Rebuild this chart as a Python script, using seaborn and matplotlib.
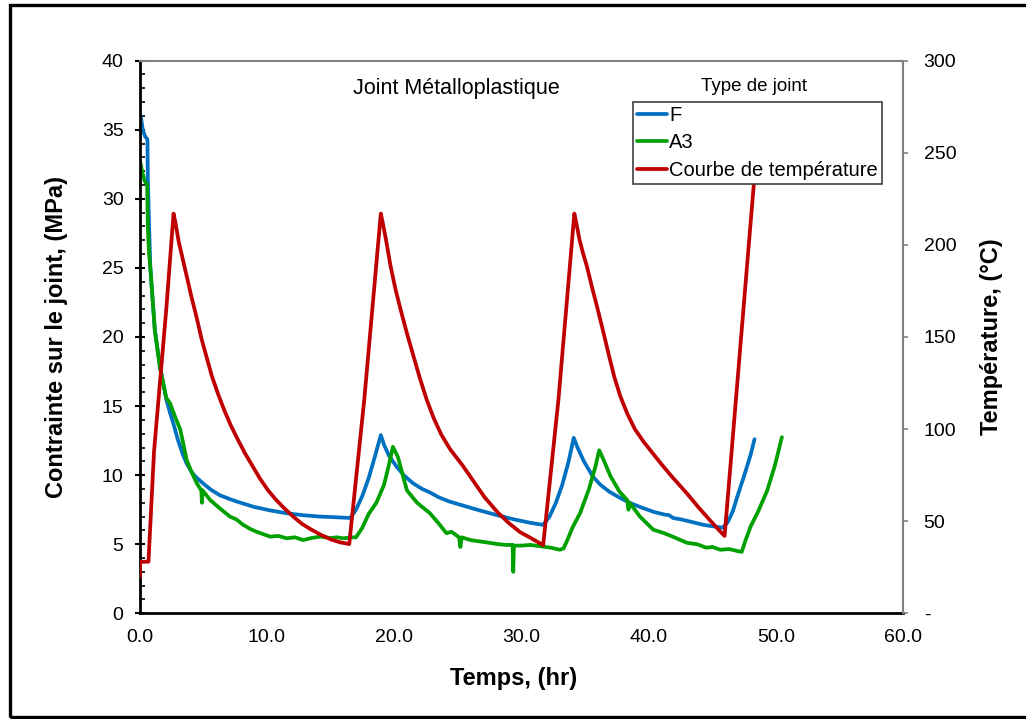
import numpy as np
import pandas as pd
import seaborn as sns
import matplotlib
matplotlib.use("Agg")
import matplotlib.pyplot as plt
from matplotlib.patches import Rectangle
from matplotlib.ticker import MultipleLocator, FuncFormatter

# joint F : temps (hr) / contrainte (MPa)
t_f = [0.1, 0.25, 0.45, 0.62, 0.65, 0.75, 0.85, 1.2, 1.6, 2.1, 2.4, 2.7, 3.0, 3.4, 3.7, 4.1,
       4.5, 5.0, 5.6, 6.3, 7.0, 7.6, 8.3, 9.0, 10.25, 11.5, 12.85, 14.2, 15.5, 16.55, 17.0,
       17.5, 18.0, 18.5, 18.95, 19.2, 19.6, 20.2, 20.8, 21.5, 22.2, 22.8, 23.5, 24.3, 25.4,
       26.7, 28.1, 29.4, 30.7, 31.7, 32.2, 32.7, 33.2, 33.7, 34.1, 34.4, 34.9, 35.6, 36.2,
       36.9, 37.75, 38.5, 39.3, 40.35, 41.2, 41.6, 41.9, 42.5, 43.2, 44.3, 45.0, 45.8, 46.2,
       46.6, 47.0, 47.5, 48.0, 48.3]
f_mpa = [36.0, 35.0, 34.5, 34.3, 31.5, 28.0, 25.0, 20.5, 17.9, 15.5, 14.5, 13.6, 12.6, 11.5,
         10.85, 10.2, 9.8, 9.4, 8.95, 8.55, 8.3, 8.1, 7.9, 7.7, 7.45, 7.25, 7.1, 7.0, 6.95, 6.9,
         7.5, 8.5, 9.8, 11.4, 12.9, 12.2, 11.4, 10.6, 9.95, 9.4, 9.0, 8.75, 8.4, 8.1, 7.8,
         7.45, 7.1, 6.8, 6.55, 6.4, 7.0, 8.0, 9.3, 11.0, 12.7, 12.0, 11.0, 9.9, 9.3,
         8.8, 8.35, 8.0, 7.7, 7.35, 7.15, 7.1, 6.9, 6.8, 6.65, 6.4, 6.3, 6.2, 6.6,
         7.4, 8.6, 10.0, 11.5, 12.6]

# joint A3
t_a3 = [0.05, 0.2, 0.4, 0.6, 0.65, 0.75, 0.85, 1.2, 1.6, 2.1, 2.4, 2.8, 3.2, 3.7, 4.1, 4.5,
        4.85, 4.9, 4.95, 5.55, 6.3, 7.1, 7.6, 8.15, 8.7, 9.2, 9.8, 10.25, 10.9, 11.55, 12.2,
        12.85, 13.5, 14.2, 15.0, 15.5, 16.0, 16.7, 17.0, 17.5, 18.0, 18.6, 19.2, 19.6, 19.9,
        20.3, 20.7, 21.0, 21.8, 22.8, 23.5, 24.1, 24.5, 25.1, 25.2, 25.3, 26.0, 26.75, 27.5,
        28.2, 28.8, 29.3, 29.35, 29.4, 30.0, 30.7, 31.5, 32.3, 33.0, 33.3, 33.6, 34.0, 34.6,
        35.3, 35.8, 36.1, 36.4, 37.0, 37.7, 38.3, 38.4, 38.5, 39.3, 40.35, 41.2, 42.0, 43.0,
        43.8, 44.5, 45.0, 45.6, 46.3, 47.0, 47.3, 47.6, 48.0, 48.6, 49.3, 49.9, 50.45]
a3_mpa = [32.7, 32.0, 31.3, 31.0, 28.0, 26.0, 25.0, 20.5, 17.8, 15.6, 15.2, 14.2, 13.3, 11.1,
          10.2, 9.4, 8.9, 8.0, 8.9, 8.2, 7.6, 7.0, 6.8, 6.4, 6.1, 5.9, 5.7, 5.55, 5.6, 5.43, 5.5,
          5.3, 5.45, 5.55, 5.45, 5.5, 5.43, 5.5, 5.5, 6.2, 7.2, 8.0, 9.3, 10.8, 12.05,
          11.3, 9.9, 8.9, 8.0, 7.25, 6.5, 5.8, 5.9, 5.5, 4.8, 5.5, 5.3, 5.2, 5.1,
          5.0, 4.95, 4.95, 3.0, 4.9, 4.9, 4.95, 4.85, 4.75, 4.6, 4.7, 5.3, 6.2, 7.25,
          9.0, 10.6, 11.8, 11.2, 9.9, 8.8, 8.2, 7.5, 8.0, 7.0, 6.05, 5.8, 5.5, 5.1,
          5.0, 4.75, 4.8, 4.6, 4.65, 4.5, 4.45, 5.3, 6.3, 7.4, 8.9, 10.7, 12.75]

# courbe de temperature (degC)
t_temp = [0.02, 0.05, 0.7, 1.14, 1.6, 2.1, 2.67, 2.82, 3.07, 3.37, 3.67, 4.07, 4.47, 4.87,
          5.27, 5.67, 6.17, 6.67, 7.17, 7.67, 8.27, 8.87, 9.47, 10.07, 10.67, 11.37, 12.07,
          12.77, 13.47, 14.27, 15.07, 15.77, 16.47,
          17.65, 18.95, 19.1, 19.35, 19.7, 20.1, 20.5, 21.0, 21.5, 22.0, 22.55, 23.1, 23.7,
          24.4, 25.4, 26.2, 27.1, 28.1, 29.0, 29.9, 30.7, 31.2, 31.7,
          32.9, 34.15, 34.3, 34.55, 34.85, 35.15, 35.5, 35.95, 36.45, 36.9, 37.3, 37.75, 38.3,
          38.9, 39.6, 40.35, 41.1, 41.9, 43.0, 43.9, 44.8, 45.6, 45.95, 48.45]
temp_c = [20, 28, 28, 88, 125, 165, 217, 212, 202, 193, 184, 172, 161, 149,
          139, 129, 119, 110, 102, 95, 87, 80, 73, 67, 62, 57, 52.5,
          48.5, 45.5, 42.5, 40, 38.5, 37.6,
          116, 217, 212, 203, 189, 176, 165, 152, 140, 128, 116, 106, 97,
          89, 80, 72, 63, 55, 49, 44, 41, 39, 37,
          116, 217, 212, 203, 195, 188, 178, 166, 152, 139, 128, 118, 108.5,
          100, 93, 86.5, 80, 73.5, 65, 57.5, 50.5, 44.5, 42, 250]

labels = ["F", "A3", "Courbe de température"]
colors = ["#0070C0", "#00A000", "#C00000"]

sns.set_style("white")
plt.rcParams['font.family'] = ['Liberation Sans', 'DejaVu Sans']
plt.rcParams['text.color'] = 'black'
plt.rcParams['axes.labelcolor'] = 'black'
plt.rcParams['xtick.color'] = 'black'
plt.rcParams['ytick.color'] = 'black'

fig = plt.figure(figsize=(10.26, 7.19), dpi=100)
ax1 = fig.add_axes([0.136, 0.147, 0.7446, 0.7686])
ax2 = ax1.twinx()

lw = 2.7
sns.lineplot(x=t_f, y=f_mpa, ax=ax1, color=colors[0], lw=lw, estimator=None, sort=False, legend=False)
sns.lineplot(x=t_a3, y=a3_mpa, ax=ax1, color=colors[1], lw=lw, estimator=None, sort=False, legend=False)
sns.lineplot(x=t_temp, y=temp_c, ax=ax2, color=colors[2], lw=lw, estimator=None, sort=False, legend=False)

ax1.set_xlim(0, 60)
ax1.set_ylim(0, 40)
ax2.set_ylim(0, 300)

ax1.xaxis.set_major_locator(MultipleLocator(10))
ax1.xaxis.set_major_formatter(FuncFormatter(lambda v, p: f"{v:.1f}"))
ax1.yaxis.set_major_locator(MultipleLocator(5))
ax1.yaxis.set_minor_locator(MultipleLocator(1))
ax2.yaxis.set_major_locator(MultipleLocator(50))
ax2.yaxis.set_major_formatter(FuncFormatter(lambda v, p: "-" if v == 0 else f"{v:.0f}"))

ax1.tick_params(axis='x', which='major', direction='inout', length=6.5, width=1.5,
                labelsize=14, pad=8, colors='black')
ax1.tick_params(axis='y', which='major', direction='inout', length=7, width=1.5,
                labelsize=14, pad=8, colors='black')
ax1.tick_params(axis='y', which='minor', direction='in', length=3.5, width=1.2, left=True,
                colors='black')
ax2.tick_params(axis='y', which='major', direction='out', length=3.5, width=1.2,
                color='#808080', labelcolor='black', labelsize=14, pad=11)

for s in ['left', 'bottom']:
    ax1.spines[s].set_color('black')
    ax1.spines[s].set_linewidth(2)
ax1.spines['top'].set_color('#808080')
ax1.spines['top'].set_linewidth(1.5)
ax1.spines['right'].set_visible(False)
for s in ['left', 'bottom', 'top']:
    ax2.spines[s].set_visible(False)
ax2.spines['right'].set_color('#808080')
ax2.spines['right'].set_linewidth(1.5)

ax1.set_xlabel("Temps, (hr)", fontsize=17, fontweight='bold', color='black')
ax1.set_ylabel("Contrainte sur le joint, (MPa)", fontsize=17, fontweight='bold', color='black')
ax2.set_ylabel("Température, (°C)", fontsize=17, fontweight='bold', rotation=90, color='black')
ax1.xaxis.set_label_coords(0.49, -0.097)
ax1.yaxis.set_label_coords(-0.0936, 0.5)
ax2.yaxis.set_label_coords(1.100, 0.5)

fig.text(0.4445, 0.877, "Joint Métalloplastique", fontsize=15.5, ha='center', va='center')
fig.text(0.735, 0.88, "Type de joint", fontsize=13.5, ha='center', va='center')

handles = [ax1.lines[0], ax1.lines[1], ax2.lines[0]]
leg = ax2.legend(handles, labels, loc='upper left', bbox_to_anchor=(0.617, 0.8586),
                 bbox_transform=fig.transFigure, fontsize=14.5, frameon=True, fancybox=False,
                 handlelength=1.5, handletextpad=0.1, borderpad=0.2, labelspacing=0.42,
                 borderaxespad=0, framealpha=1)
leg.get_frame().set_edgecolor('#404040')
leg.get_frame().set_linewidth(1.2)
leg.set_zorder(10)

fig.patches.append(Rectangle((0.0097, 0.003), 1.0, 0.99, transform=fig.transFigure,
                             fill=False, lw=2.4, ec='black'))

fig.savefig("out.png", dpi=100)
